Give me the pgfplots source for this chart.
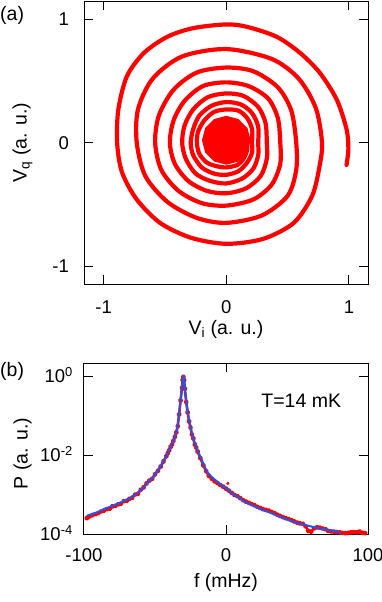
\documentclass[border=0pt]{standalone}
\usepackage{fontspec}
\setmainfont{Liberation Sans}
\usepackage{pgfplots}
\pgfplotsset{compat=1.18}
\definecolor{fitblue}{RGB}{35,85,235}

\pgfplotsset{
  panel/.style={
    scale only axis, width=284pt, anchor=south west,
    axis line style={line width=1pt},
    every tick/.style={black, line width=1pt},
    major tick length=9pt, tick align=inside,
    tick label style={font=\fontsize{18.5}{22}\selectfont, inner sep=0pt},
    label style={font=\fontsize{19.5}{23}\selectfont},
    clip mode=individual,
  }
}

\begin{document}
\begin{tikzpicture}
\path[use as bounding box] (0pt,0pt) rectangle (382pt,-602pt);

% (a) phase-space spiral
\begin{axis}[panel, at={(84pt,-284pt)}, height=283pt,
  xmin=-1.16, xmax=1.155, ymin=-1.146, ymax=1.15,
  xtick={-1,0,1}, xticklabels={-1,0,1},
  ytick={-1,0,1}, yticklabels={-1,0,1},
  xticklabel style={anchor=north, yshift=-16.5pt},
  yticklabel style={anchor=east, xshift=-15pt},
  xlabel={V\textsubscript{i} (a. u.)}, ylabel={V\textsubscript{q} (a. u.)},
  xlabel style={at={(axis description cs:0.5,0)}, anchor=center, yshift=-45pt},
  ylabel style={at={(axis description cs:-0.2165,0.5)}, anchor=center},
]
\addplot[red, line width=4.2pt, smooth, line cap=round, line join=round] coordinates {
  (0.98,-0.18)(0.995,-0.05)(0.98,0.11)(0.90,0.35)(0.76,0.57)(0.60,0.73)(0.41,0.86)
  (0.17,0.94)(0.0,0.96)(-0.27,0.93)(-0.48,0.86)(-0.67,0.73)(-0.81,0.54)(-0.88,0.27)
  (-0.89,0.0)(-0.85,-0.24)(-0.73,-0.46)(-0.54,-0.65)(-0.29,-0.77)(0,-0.82)(0.30,-0.78)
  (0.55,-0.65)(0.70,-0.43)(0.76,-0.19)(0.78,0.0)
  (0.73,0.28)(0.59,0.52)(0.37,0.68)(0,0.76)(-0.36,0.70)(-0.60,0.52)(-0.72,0.27)
  (-0.73,0)(-0.66,-0.27)(-0.48,-0.48)(-0.24,-0.61)(0,-0.65)(0.29,-0.59)(0.50,-0.43)
  (0.57,-0.22)(0.57,0)
  (0.53,0.26)(0.42,0.45)(0.22,0.58)(0,0.61)(-0.24,0.57)(-0.43,0.43)(-0.55,0.22)
  (-0.58,0)(-0.53,-0.22)(-0.39,-0.39)(-0.20,-0.49)(0,-0.51)(0.22,-0.46)(0.37,-0.34)
  (0.44,-0.17)(0.44,0)
  (0.42,0.20)(0.34,0.36)(0.18,0.46)(0,0.49)(-0.19,0.46)(-0.34,0.34)(-0.43,0.18)
  (-0.46,0)(-0.42,-0.17)(-0.31,-0.31)(-0.16,-0.39)(0,-0.41)(0.16,-0.37)(0.28,-0.27)
  (0.33,-0.13)(0.33,0)
  (0.32,0.16)(0.26,0.29)(0.14,0.38)(0,0.40)(-0.15,0.37)(-0.27,0.27)(-0.34,0.14)
  (-0.36,0)(-0.33,-0.13)(-0.25,-0.25)(-0.13,-0.31)(0,-0.33)(0.13,-0.29)(0.22,-0.21)
  (0.26,-0.10)(0.26,0)
  (0.26,0.13)(0.21,0.24)(0.12,0.31)(0,0.33)(-0.12,0.30)(-0.22,0.22)(-0.27,0.11)
  (-0.29,0)(-0.27,-0.10)(-0.20,-0.20)(-0.10,-0.25)(0,-0.26)(0.10,-0.23)(0.17,-0.16)
  (0.21,-0.08)(0.21,0)
  (0.21,0.11)(0.17,0.20)(0.10,0.26)(0,0.27)(-0.10,0.25)(-0.18,0.18)(-0.23,0.09)
  (-0.24,0)(-0.22,-0.09)(-0.16,-0.16)(-0.08,-0.19)(0,-0.20)(0.09,-0.18)(0.14,-0.13)
  (0.17,-0.06)(0.17,0)
};
% filled centre
\addplot[red, fill=red, line width=2pt, line join=round] coordinates {
  (0.19,0.02)(0.165,0.115)(0.095,0.185)(0,0.21)(-0.095,0.185)(-0.165,0.115)
  (-0.19,0.02)(-0.165,-0.075)(-0.095,-0.145)(0,-0.17)(0.095,-0.145)(0.165,-0.075)
} -- cycle;
\end{axis}

% (b) spectrum
\begin{axis}[panel, at={(84pt,-534pt)}, height=171pt,
  xmin=-100, xmax=100, ymode=log, ymin=1e-4, ymax=2.14,
  xtick={-100,0,100}, xticklabels={-100,0,100},
  ytick={1e-4,1e-2,1},
  yticklabels={10\textsuperscript{-4},10\textsuperscript{-2},10\textsuperscript{0}},
  yminorticks=false,
  xticklabel style={anchor=north, yshift=-14pt},
  yticklabel style={anchor=base east, xshift=-11pt, yshift=-6.6pt},
  xlabel={f (mHz)}, ylabel={P (a. u.)},
  xlabel style={at={(axis description cs:0.5,0)}, anchor=center, yshift=-48pt},
  ylabel style={at={(axis description cs:-0.2165,0.47)}, anchor=center},
]
% measured data
\addplot[red, line width=2.6pt, mark=*, mark size=1.3pt, line join=round] coordinates {
  (-98,2.51e-4)(-97,2.69e-4)(-96,2.82e-4)(-94,3.02e-4)(-92,3.16e-4)(-90,3.39e-4)
  (-88,3.72e-4)(-86,3.89e-4)(-84,4.27e-4)(-82,4.37e-4)(-80,5.01e-4)(-78,5.13e-4)
  (-76,5.62e-4)(-74,5.89e-4)(-72,6.76e-4)(-70,6.92e-4)(-68,7.76e-4)(-66,8.32e-4)
  (-64,1.00e-3)(-62,1.05e-3)(-60,1.32e-3)(-58,1.51e-3)(-56,1.91e-3)(-54,2.24e-3)
  (-52,2.51e-3)(-50,3.24e-3)(-48,3.98e-3)(-46,5.13e-3)(-44,6.92e-3)(-42,9.33e-3)
  (-41,1.12e-2)(-40,1.32e-2)(-39,1.62e-2)(-38,1.86e-2)(-37,2.29e-2)(-36,2.88e-2)
  (-35,3.72e-2)(-34,5.37e-2)(-33,0.107)(-32,0.240)(-31,0.501)(-30.5,0.794)
  (-30,0.955)(-29.5,0.794)(-29,0.479)(-28,0.219)(-27,0.120)(-26,7.08e-2)
  (-25,5.01e-2)(-24,3.31e-2)(-23,2.63e-2)(-22,1.86e-2)(-21,1.55e-2)(-20,1.23e-2)
  (-18,8.32e-3)(-16,5.50e-3)(-14,3.89e-3)(-12,2.95e-3)(-10,2.51e-3)(-8,2.14e-3)
  (-6,1.95e-3)(-4,1.74e-3)(-2,1.58e-3)(0,1.41e-3)(2,1.26e-3)(4,1.10e-3)
  (6,9.77e-4)(8,9.12e-4)(10,8.13e-4)(12,7.24e-4)(14,6.61e-4)(16,6.17e-4)
  (18,5.75e-4)(20,5.37e-4)(22,4.90e-4)(24,4.57e-4)(26,4.27e-4)(28,4.07e-4)
  (30,3.89e-4)(32,3.63e-4)(34,3.39e-4)(36,3.09e-4)(38,2.88e-4)(40,2.69e-4)
  (42,2.51e-4)(44,2.40e-4)(46,2.24e-4)(48,2.09e-4)(50,1.95e-4)(52,1.86e-4)
  (54,1.82e-4)(56,1.58e-4)(58,1.20e-4)(60,1.15e-4)(62,1.38e-4)(64,1.48e-4)
  (66,1.45e-4)(68,1.38e-4)(70,1.32e-4)(72,1.20e-4)(74,1.17e-4)(76,1.15e-4)
  (78,1.12e-4)(80,1.10e-4)(82,1.07e-4)(84,1.05e-4)(86,1.07e-4)(88,1.10e-4)
  (90,1.12e-4)(92,1.10e-4)(94,1.15e-4)(96,1.07e-4)(98,1.05e-4)
};
\addplot[red, only marks, mark=*, mark size=1.3pt] coordinates {(1.3,1.91e-3)};
% fit
\addplot[fitblue, line width=2pt, line join=round] coordinates {
  (-98,2.88e-4)(-90,3.63e-4)(-86,4.27e-4)(-80,5.13e-4)(-74,6.31e-4)(-68,7.94e-4)
  (-62.6,1.07e-3)(-58,1.48e-3)(-55.6,1.91e-3)(-52,2.63e-3)(-48.6,3.80e-3)
  (-45,6.03e-3)(-42,9.55e-3)(-39.5,1.48e-2)(-37.1,2.24e-2)(-35,3.72e-2)
  (-34,6.03e-2)(-33,0.112)(-32,0.240)(-31,0.525)(-30.5,0.832)(-30,1.0)
  (-29.5,0.832)(-29,0.501)(-28,0.229)(-27.2,0.138)(-26,0.0759)(-24,0.0355)
  (-22.1,0.0200)(-19,0.0107)(-15.6,5.62e-3)(-13.5,3.80e-3)(-10,2.75e-3)
  (-4,1.82e-3)(0,1.45e-3)(5.3,1.00e-3)(7.8,8.91e-4)(13,6.61e-4)(19.5,5.13e-4)
  (25,4.17e-4)(31.2,3.47e-4)(37,2.82e-4)(42.9,2.34e-4)(48,2.00e-4)(54.6,1.74e-4)
  (60,1.55e-4)(66.3,1.38e-4)(72,1.26e-4)(78,1.15e-4)(81,1.07e-4)
};
\node[font=\fontsize{19.5}{23}\selectfont, inner sep=0pt] at (axis cs:53,0.233) {T=14 mK};
\end{axis}

\node[font=\fontsize{19.5}{23}\selectfont, inner sep=0pt, anchor=west] at (0pt,-15pt) {(a)};
\node[font=\fontsize{19.5}{23}\selectfont, inner sep=0pt, anchor=west] at (0pt,-371.5pt) {(b)};
\end{tikzpicture}
\end{document}
